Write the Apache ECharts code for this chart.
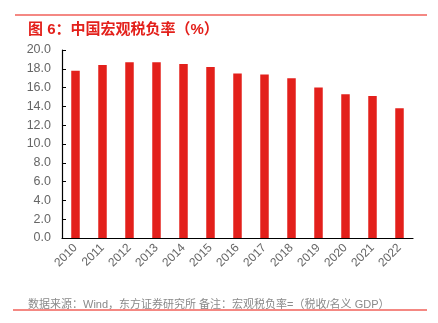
<!DOCTYPE html>
<html>
<head>
<meta charset="utf-8">
<script src="https://cdn.jsdelivr.net/npm/echarts@6/dist/echarts.min.js"></script>
<style>
  html, body { margin: 0; padding: 0; background: #fff; }
  #chart { width: 438px; height: 323px; }
</style>
</head>
<body>
<div id="chart"></div>
<script>
// Macro tax burden ratio by year (%)
const years = ['2010', '2011', '2012', '2013', '2014', '2015', '2016', '2017', '2018', '2019', '2020', '2021', '2022'];
const taxBurden = [17.8, 18.4, 18.7, 18.7, 18.5, 18.2, 17.5, 17.4, 17.0, 16.0, 15.3, 15.1, 13.8];
const yTicks = { min: 0, max: 20, interval: 2 };

const titleText = '图 6：中国宏观税负率（%）';
const noteText = '数据来源：Wind，东方证券研究所 备注：宏观税负率=（税收/名义 GDP）';

const FONT = '"Liberation Sans", "Noto Sans CJK SC", sans-serif';
const chart = echarts.init(document.getElementById('chart'), null, { renderer: 'canvas' });

chart.setOption({
  backgroundColor: '#ffffff',
  animation: false,
  title: [
    {
      text: titleText,
      left: 23, top: 17,
      textStyle: { color: '#E3201B', fontSize: 15, fontWeight: 'bold', fontFamily: FONT }
    },
    {
      text: noteText,
      left: 23, top: 294,
      textStyle: { color: '#8a8a8a', fontSize: 11, fontWeight: 'normal', fontFamily: FONT }
    }
  ],
  graphic: [
    { type: 'line', shape: { x1: 15, y1: 15, x2: 427, y2: 15 }, style: { stroke: '#F0605A', lineWidth: 1.3 } },
    { type: 'line', shape: { x1: 13, y1: 310, x2: 427, y2: 310 }, style: { stroke: '#F0605A', lineWidth: 1.3 } }
  ],
  grid: { left: 62, right: 25, top: 50, bottom: 85, containLabel: false },
  xAxis: {
    type: 'category',
    data: years,
    axisLine: { lineStyle: { color: '#000', width: 1.2 } },
    axisTick: { show: false },
    axisLabel: { rotate: 45, color: '#666', fontSize: 12, margin: 8, fontFamily: FONT, interval: 0 }
  },
  yAxis: {
    type: 'value',
    min: yTicks.min, max: yTicks.max, interval: yTicks.interval,
    axisLine: { show: true, lineStyle: { color: '#000', width: 1.2 } },
    axisTick: { show: true, inside: true, length: 4, lineStyle: { color: '#000' } },
    splitLine: { show: false },
    axisLabel: { color: '#666', fontSize: 12.5, margin: 11, fontFamily: FONT, formatter: v => v.toFixed(1) }
  },
  series: [{
    type: 'bar',
    data: taxBurden,
    barWidth: 8.5,
    itemStyle: { color: '#E3201B' }
  }]
});
</script>
</body>
</html>
